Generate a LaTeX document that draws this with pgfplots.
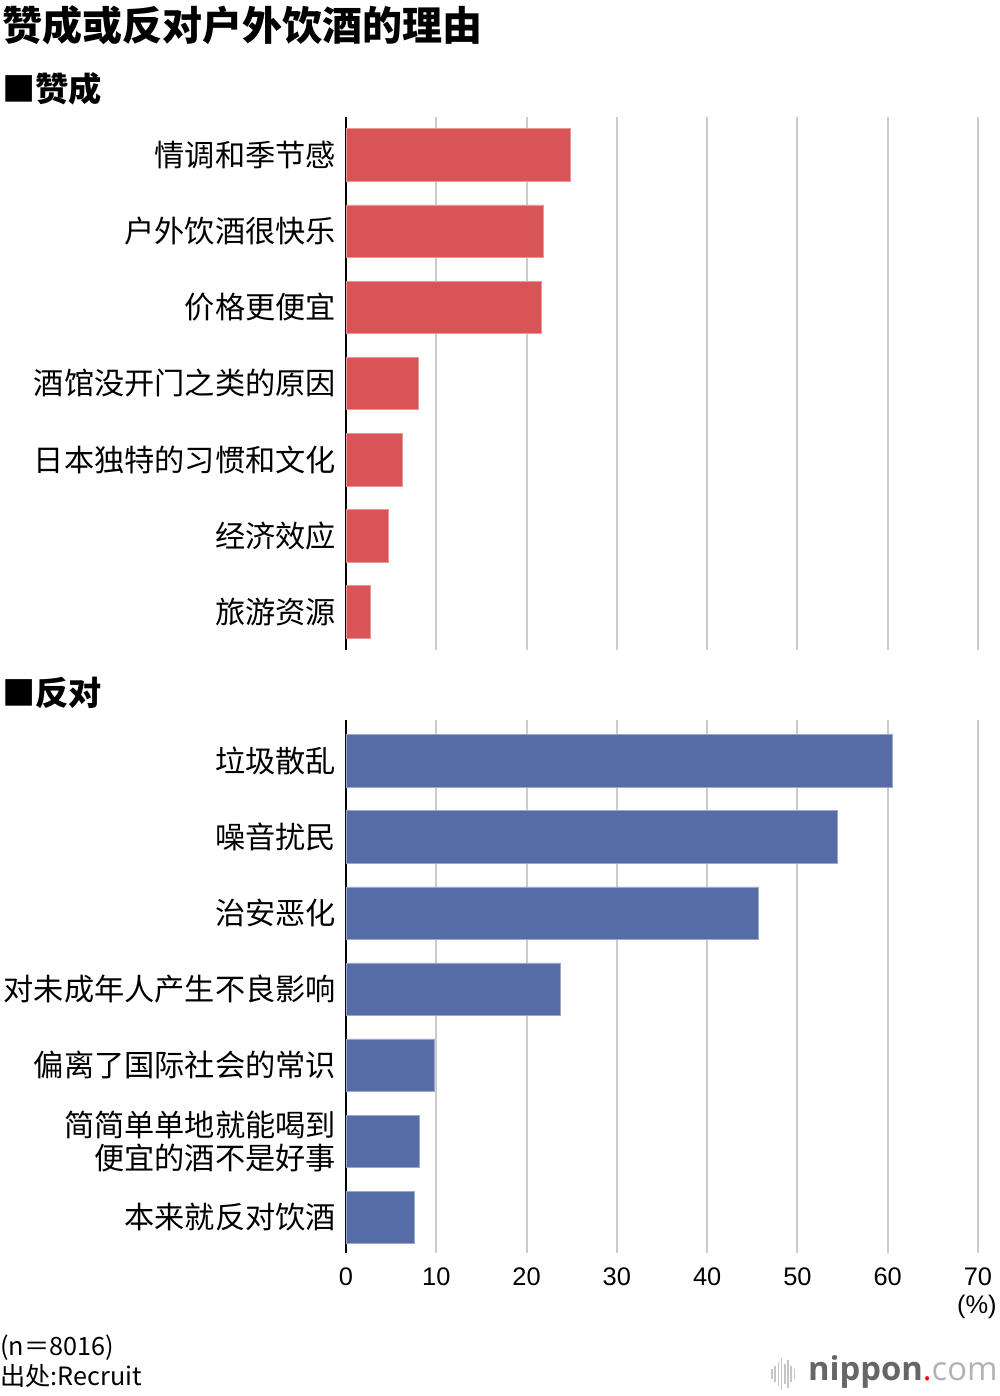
\documentclass[border=0pt]{standalone}
\usepackage{fontspec}
\setmainfont{Noto Sans CJK SC}
\newfontfamily\numfont{Liberation Sans}
\newfontfamily\logofont{Open Sans}
\usepackage{pgfplots}
\usepackage{pgfplotstable}
\pgfplotsset{compat=1.18}

\definecolor{barred}{HTML}{D95456}
\definecolor{barblue}{HTML}{566CA6}
\definecolor{gridgray}{HTML}{CCCCCC}

% reasons in favour (percent)
\pgfplotstableread{
idx val
0 24.9
1 21.9
2 21.6
3 8.0
4 6.2
5 4.7
6 2.7
}\prodata

% reasons against (percent)
\pgfplotstableread{
idx val
0 60.5
1 54.4
2 45.7
3 23.8
4 9.8
5 8.1
6 7.6
}\condata

\pgfplotsset{
  reasons/.style={
    scale only axis,
    width=316pt, height=266.5pt,
    xmin=0, xmax=70,
    y dir=reverse,
    xtick={0,10,...,70},
    ytick={0,...,6},
    xmajorgrids,
    grid style={gridgray, line width=1pt},
    major tick length=0pt,
    axis lines*=left,
    axis line style={-},
    x axis line style={draw=none},
    y axis line style={black, line width=1.2pt},
    yticklabel style={font=\fontsize{15.1}{16.5}\selectfont, align=right, xshift=-1.5pt},
    xticklabel style={font=\numfont\fontsize{12.7}{14}\selectfont, yshift=-4pt},
    /pgf/number format/assume math mode=true,
  },
}

\begin{document}
\begin{tikzpicture}
\useasboundingbox (0,0) rectangle (500pt,-698pt);

\node[anchor=west, inner sep=0pt, font=\bfseries\fontsize{20}{22}\selectfont] at (1pt,-12.5pt) {赞成或反对户外饮酒的理由};
\node[anchor=west, inner sep=0pt, font=\bfseries\fontsize{16.6}{18}\selectfont] at (1pt,-44.5pt) {■赞成};
\node[anchor=west, inner sep=0pt, font=\bfseries\fontsize{16.6}{18}\selectfont] at (1pt,-346.5pt) {■反对};

\begin{axis}[reasons,
    at={(173pt,-58.5pt)}, anchor=north west,
    ymin=-0.5, ymax=6.5,
    xticklabel style={text opacity=0},
    yticklabels={情调和季节感, 户外饮酒很快乐, 价格更便宜, 酒馆没开门之类的原因, 日本独特的习惯和文化, 经济效应, 旅游资源},
]
\addplot[xbar, bar width=0.69, fill=barred, draw=barred!60!white, line width=0.4pt]
  table[x=val, y=idx] {\prodata};
\end{axis}

\begin{axis}[reasons,
    at={(173pt,-360pt)}, anchor=north west,
    ymin=-0.54, ymax=6.47,
    yticklabels={垃圾散乱, 噪音扰民, 治安恶化, 对未成年人产生不良影响, 偏离了国际社会的常识, {简简单单地就能喝到\\便宜的酒不是好事}, 本来就反对饮酒},
]
\addplot[xbar, bar width=0.69, fill=barblue, draw=barblue!60!white, line width=0.4pt]
  table[x=val, y=idx] {\condata};
\end{axis}

\node[anchor=east, inner sep=0pt, font=\numfont\fontsize{12.7}{14}\selectfont] at (498.5pt,-653.5pt) {(\%)};

\node[anchor=west, inner sep=0pt, font=\fontsize{12.6}{14}\selectfont] at (0pt,-674pt) {(n＝8016)};
\node[anchor=west, inner sep=0pt, font=\fontsize{12.6}{14}\selectfont] at (0pt,-688pt) {出处:Recruit};

% nippon.com logo
\foreach \x/\h in {0/2.5,1.6/4,3.2/6,4.8/8,6.4/5,8.0/7,9.6/4,11.2/2.5}
  \draw[gray!45, line width=0.8pt] (386pt+\x pt,-687pt-\h pt) -- (386pt+\x pt,-687pt+\h pt);
\node[anchor=east, inner sep=0pt, font=\logofont\fontsize{16.4}{18}\selectfont] at (499pt,-686pt)
  {\textcolor{black!60}{\bfseries nippon}\textcolor{red}{.}\textcolor{gray!60}{com}};
\end{tikzpicture}
\end{document}
